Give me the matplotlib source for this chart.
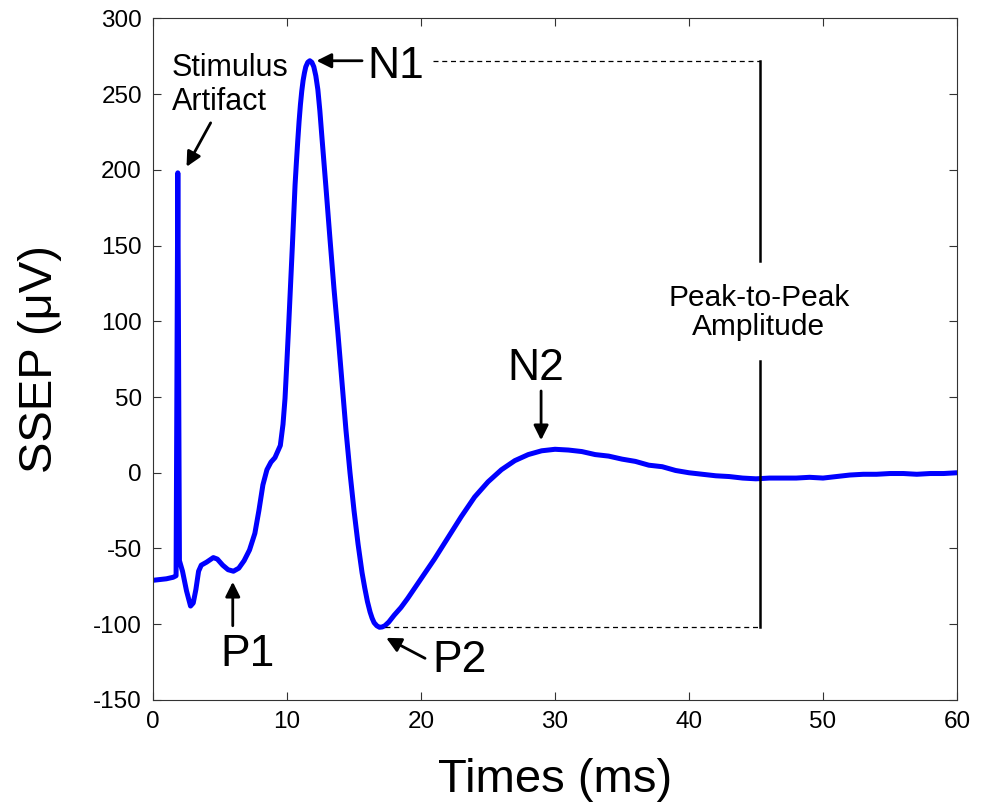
import matplotlib
matplotlib.use("Agg")
import matplotlib.pyplot as plt

plt.rcParams['font.family'] = ['Liberation Sans', 'DejaVu Sans']
plt.rcParams['axes.unicode_minus'] = False

# SSEP trace (time in ms, amplitude in uV)
t = [0, 0.5, 1.0, 1.5, 1.72, 1.85, 1.97, 2.2, 2.5, 2.8, 3.0, 3.2, 3.4, 3.6,
     4.0, 4.5, 4.8, 5.2, 5.6, 6.0, 6.4, 6.8, 7.2, 7.6, 7.9, 8.2, 8.5, 8.8,
     9.1, 9.3, 9.5, 9.7, 9.85, 10.0, 10.1, 10.2, 10.3, 10.4, 10.5, 10.6,
     10.7, 10.8, 10.9, 11.0, 11.1, 11.2, 11.3, 11.4, 11.55, 11.7, 11.85,
     12.0, 12.15, 12.3, 12.45, 12.6, 12.9, 13.2, 13.5, 13.8, 14.1, 14.4,
     14.7, 15.0, 15.3, 15.6, 15.8, 16.0, 16.2, 16.35, 16.5, 16.7, 16.9,
     17.1, 17.3, 17.6, 18, 18.5, 19, 20, 21, 22, 23, 24, 25, 26, 27, 28,
     29, 30, 31, 32, 33, 34, 35, 36, 37, 38, 39, 40, 41, 42, 43, 44, 45,
     46, 47, 48, 49, 50, 51, 52, 53, 54, 55, 56, 57, 58, 59, 60]
ssep = [-71, -70.5, -70, -69, -68, 198, -58, -65, -78, -88, -86, -77, -65,
        -61, -59, -56, -57, -61, -64, -65, -63, -58, -51, -40, -25, -8, 2, 7,
        10, 14, 18, 32, 49, 75, 93, 112, 131, 150, 170, 190,
        205, 219, 232, 243, 252, 259, 264, 268, 271, 272, 271,
        268, 262, 253, 239, 222, 189, 155, 122, 92, 60, 28,
        0, -25, -47, -66, -76, -85, -92, -96, -99, -101, -102,
        -101.8, -101, -98.5, -94, -89, -83, -70, -57, -43, -29, -16, -6, 2,
        8, 12, 14.5, 15.5, 15, 14, 12, 11, 9, 7.5, 5, 4, 1.5, 0, -1, -2,
        -2.5, -3.5, -4, -3.5, -3.5, -3.5, -3, -3.5, -2.5, -1.5, -1, -1,
        -0.5, -0.5, -1, -0.5, -0.5, 0]

n1_t, n1_v = 11.7, 272
p2_t, p2_v = 16.9, -102
p2p_t = 45.3

fig = plt.figure(figsize=(9.86, 8.08), dpi=100)
ax = fig.add_axes([0.1552, 0.1337, 0.8154, 0.8436])

ax.plot(t, ssep, color='#0000ff', lw=3.6, solid_joinstyle='round')

# peak-to-peak guide lines
ax.plot([20.9, p2p_t], [n1_v, n1_v], color='k', lw=0.9, ls=(0, (4, 3)))
ax.plot([p2_t + 0.4, p2p_t], [p2_v, p2_v], color='k', lw=0.9, ls=(0, (4, 3)))
ax.plot([p2p_t, p2p_t], [n1_v, 140], color='k', lw=1.8)
ax.plot([p2p_t, p2p_t], [74, p2_v], color='k', lw=1.8)
ax.text(p2p_t - 0.1, 106, 'Peak-to-Peak\nAmplitude', ha='center', va='center',
        fontsize=21.5, linespacing=1.05)

arrow = dict(arrowstyle='-|>', color='k', lw=2, mutation_scale=22,
             shrinkA=0, shrinkB=0)

ax.annotate('', xy=(2.5, 202), xytext=(4.3, 231), arrowprops=arrow)
ax.text(1.4, 256, 'Stimulus\nArtifact', ha='left', va='center',
        fontsize=22, linespacing=1.2)

ax.annotate('', xy=(12.2, n1_v), xytext=(15.6, n1_v), arrowprops=arrow)
ax.text(18.1, 268, 'N1', ha='center', va='center', fontsize=32)

ax.annotate('', xy=(5.95, -72), xytext=(5.95, -101), arrowprops=arrow)
ax.text(7.05, -120, 'P1', ha='center', va='center', fontsize=32)

ax.annotate('', xy=(17.4, -109), xytext=(20.3, -122.5), arrowprops=arrow)
ax.text(22.9, -124, 'P2', ha='center', va='center', fontsize=32)

ax.annotate('', xy=(28.96, 21.5), xytext=(28.96, 54), arrowprops=arrow)
ax.text(28.6, 69, 'N2', ha='center', va='center', fontsize=32)

ax.set_xlim(0, 60)
ax.set_ylim(-150, 300)
ax.set_xticks(range(0, 61, 10))
ax.set_yticks(range(-150, 301, 50))
ax.tick_params(direction='in', length=6, width=0.8, top=True, right=True,
               labelsize=17.5, pad=8, color='#333333')
for s in ax.spines.values():
    s.set_linewidth(0.8)
    s.set_color('#333333')

ax.set_xlabel('Times (ms)', fontsize=34, labelpad=18)
ax.set_ylabel('SSEP (\u03bcV)', fontsize=34, labelpad=22)

fig.savefig('out.png', dpi=100)
